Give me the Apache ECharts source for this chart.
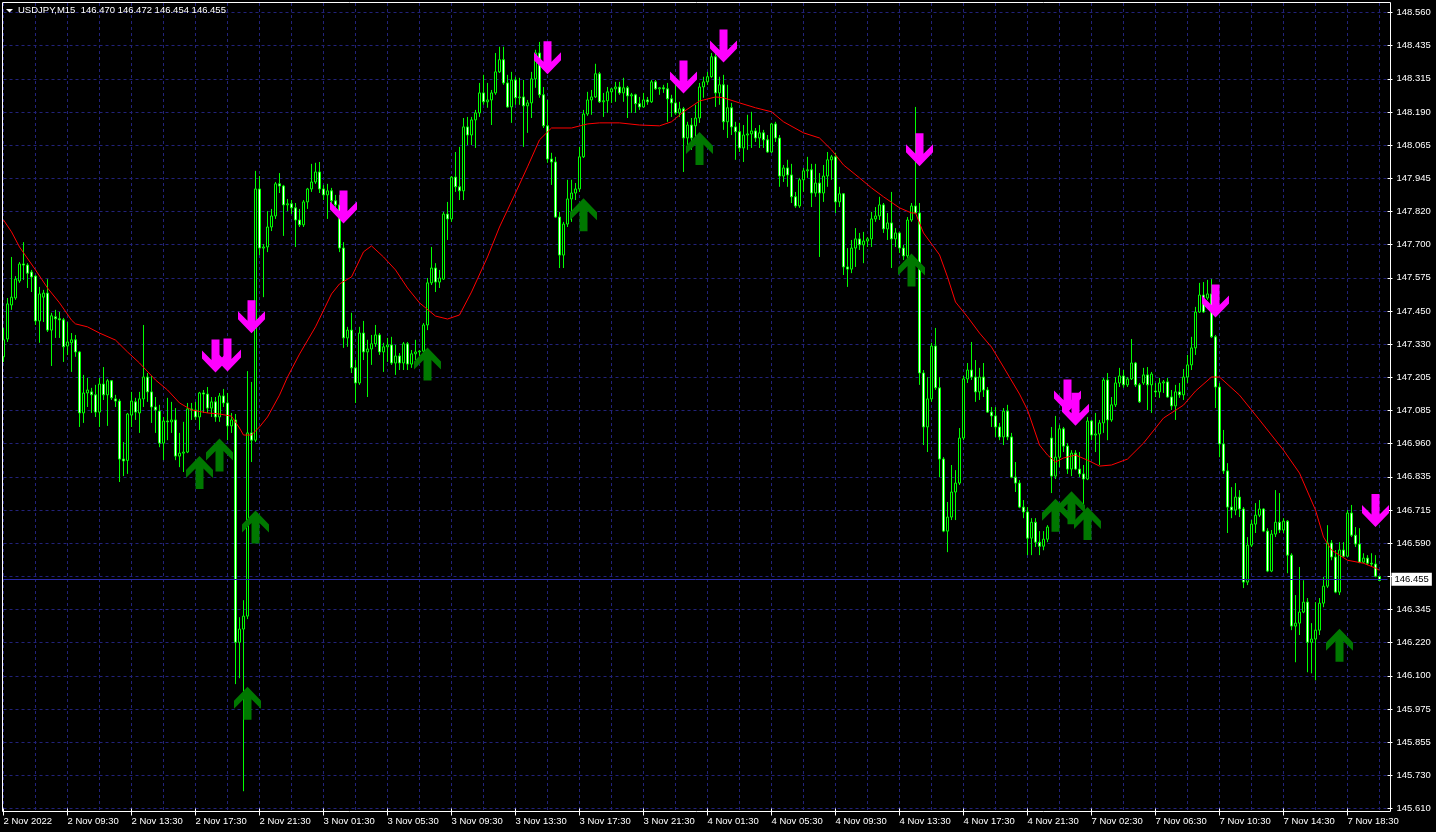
<!DOCTYPE html>
<html><head><meta charset="utf-8">
<script src="https://cdn.jsdelivr.net/npm/echarts@6/dist/echarts.min.js"></script>
<style>html,body{margin:0;padding:0;background:#000;}#chart{width:1436px;height:832px;}</style>
</head><body><div id="chart"></div>
<script>
const titleText = 'USDJPY,M15  146.470 146.472 146.454 146.455';
const xTickLabels = ['2 Nov 2022','2 Nov 09:30','2 Nov 13:30','2 Nov 17:30','2 Nov 21:30','3 Nov 01:30','3 Nov 05:30','3 Nov 09:30','3 Nov 13:30','3 Nov 17:30','3 Nov 21:30','4 Nov 01:30','4 Nov 05:30','4 Nov 09:30','4 Nov 13:30','4 Nov 17:30','4 Nov 21:30','7 Nov 02:30','7 Nov 06:30','7 Nov 10:30','7 Nov 14:30','7 Nov 18:30'];
const yTickLabels = ['145.610','145.730','145.855','145.975','146.100','146.220','146.345','146.470','146.590','146.715','146.835','146.960','147.085','147.205','147.330','147.450','147.575','147.700','147.820','147.945','148.065','148.190','148.315','148.435','148.560'];
const yMin = 145.61, yMax = 148.56;
const lastPrice = 146.455;

const open = [
147.284,147.350,147.476,147.502,147.565,147.628,147.624,147.598,147.583,147.417,
147.505,147.520,147.383,147.432,147.425,147.421,147.324,147.336,147.347,147.302,
147.076,147.150,147.154,147.143,147.079,147.183,147.143,147.195,147.128,147.120,
146.905,146.900,147.068,147.117,147.076,147.128,147.209,147.154,147.098,147.083,
146.964,147.046,147.043,147.050,146.916,146.927,146.931,147.091,147.087,147.061,
147.150,147.146,147.094,147.117,147.061,147.139,147.113,147.028,147.050,146.226,
146.275,146.323,147.002,146.975,147.906,147.687,147.691,147.765,147.806,147.925,
147.917,147.847,147.851,147.836,147.791,147.773,147.858,147.906,147.932,147.969,
147.906,147.884,147.899,147.862,147.847,147.687,147.354,147.383,147.243,147.187,
147.372,147.302,147.313,147.332,147.365,147.302,147.321,147.328,147.261,147.287,
147.261,147.332,147.257,147.295,147.302,147.305,147.402,147.558,147.613,147.561,
147.572,147.813,147.795,147.950,147.914,147.899,148.136,148.106,148.162,148.188,
148.262,148.229,148.236,148.262,148.340,148.385,148.299,148.210,148.310,148.244,
148.247,148.214,148.225,148.314,148.410,148.255,148.140,148.017,148.006,147.802,
147.661,147.776,147.869,147.891,147.906,148.025,148.184,148.236,148.247,148.333,
148.229,148.233,148.266,148.277,148.284,148.262,148.281,148.251,148.255,148.222,
148.210,148.236,148.229,148.303,148.277,148.281,148.277,148.240,148.225,148.188,
148.203,148.095,148.143,148.140,148.169,148.284,148.303,148.322,148.396,148.262,
148.292,148.155,148.207,148.136,148.118,148.058,148.106,148.110,148.121,148.095,
148.114,148.088,148.043,148.147,148.095,147.954,147.984,147.958,147.877,147.843,
147.940,147.973,147.977,147.891,147.928,147.891,147.954,148.014,148.025,147.858,
147.888,147.617,147.609,147.687,147.721,147.699,147.713,147.721,147.795,147.806,
147.847,147.758,147.780,147.721,147.743,147.687,147.658,147.791,147.843,147.817,
147.224,147.024,147.128,147.324,147.169,146.905,146.638,146.690,146.783,146.816,
146.983,147.202,147.235,147.209,147.154,147.209,147.161,147.079,147.065,147.024,
146.987,147.083,146.987,146.838,146.816,146.727,146.709,146.612,146.671,146.597,
146.582,146.608,146.983,146.842,146.912,147.017,146.953,146.868,146.927,146.868,
146.850,146.831,147.046,146.994,146.998,147.039,147.198,147.050,147.106,147.187,
147.213,147.180,147.202,147.261,147.180,147.187,147.217,147.180,147.157,147.154,
147.187,147.191,147.135,147.102,147.154,147.143,147.209,147.254,147.317,147.450,
147.513,147.502,147.517,147.358,147.172,146.961,146.861,146.727,146.716,146.764,
146.720,146.449,146.586,146.664,146.697,146.720,146.638,146.490,146.627,146.671,
146.642,146.675,146.549,146.286,146.297,146.338,146.375,146.226,146.238,146.271,
146.371,146.434,146.594,146.542,146.412,146.568,146.545,146.705,146.623,146.590,
146.523,146.538,146.519,146.516,146.470];

const high = [
147.391,147.502,147.654,147.583,147.635,147.709,147.631,147.606,147.587,147.543,
147.532,147.572,147.447,147.458,147.450,147.428,147.413,147.372,147.365,147.305,
147.217,147.206,147.169,147.180,147.206,147.246,147.202,147.198,147.143,147.128,
146.968,147.076,147.154,147.132,147.154,147.402,147.224,147.213,147.135,147.106,
147.061,147.132,147.117,147.094,147.002,147.043,147.113,147.113,147.117,147.154,
147.161,147.172,147.135,147.135,147.150,147.165,147.150,147.076,147.072,146.319,
146.382,147.231,147.191,147.973,147.954,147.702,147.824,147.832,147.932,147.965,
147.921,147.869,147.865,147.854,147.832,147.865,147.910,147.999,148.003,148.006,
147.921,147.925,147.910,147.884,147.884,147.709,147.395,147.447,147.272,147.395,
147.417,147.347,147.365,147.402,147.372,147.336,147.354,147.358,147.328,147.298,
147.339,147.339,147.309,147.347,147.309,147.409,147.576,147.691,147.631,147.606,
147.821,147.858,147.954,148.043,148.062,148.169,148.173,148.173,148.199,148.299,
148.329,148.299,148.273,148.410,148.433,148.433,148.329,148.340,148.322,148.318,
148.310,148.236,148.340,148.422,148.451,148.284,148.236,148.040,148.025,147.821,
147.784,147.940,147.940,147.928,148.062,148.199,148.266,148.273,148.370,148.340,
148.262,148.284,148.281,148.303,148.303,148.318,148.288,148.262,148.259,148.247,
148.262,148.247,148.310,148.310,148.284,148.292,148.299,148.255,148.299,148.229,
148.210,148.155,148.169,148.218,148.299,148.322,148.340,148.410,148.422,148.322,
148.329,148.292,148.225,148.155,148.151,148.143,148.181,148.192,148.132,148.143,
148.125,148.106,148.151,148.155,148.106,147.995,148.014,147.999,147.895,147.947,
147.984,148.025,147.999,147.999,147.965,147.995,148.043,148.032,148.040,147.914,
147.891,147.687,147.717,147.761,147.743,147.747,147.728,147.821,147.839,147.877,
147.854,147.817,147.895,147.761,147.747,147.699,147.802,147.854,148.210,147.854,
147.235,147.209,147.336,147.391,147.209,146.912,146.746,146.883,146.864,147.020,
147.213,147.261,147.339,147.272,147.243,147.261,147.172,147.098,147.098,147.039,
147.094,147.106,147.002,146.894,146.827,146.753,146.727,146.686,146.686,146.638,
146.638,146.660,147.024,147.065,147.032,147.024,146.964,146.938,146.938,146.931,
146.883,147.061,147.050,147.076,147.050,147.206,147.224,147.135,147.209,147.243,
147.235,147.209,147.350,147.265,147.187,147.243,147.246,147.228,147.187,147.206,
147.198,147.206,147.161,147.180,147.187,147.239,147.291,147.358,147.469,147.558,
147.561,147.569,147.572,147.365,147.187,147.013,146.890,146.801,146.816,146.790,
146.727,146.616,146.679,146.742,146.753,146.723,146.649,146.642,146.790,146.779,
146.686,146.679,146.556,146.401,146.505,146.456,146.390,146.297,146.375,146.390,
146.468,146.660,146.605,146.568,146.597,146.597,146.716,146.735,146.653,146.649,
146.556,146.549,146.556,146.549,146.472];

const low = [
147.265,147.339,147.458,147.495,147.558,147.569,147.539,147.524,147.402,147.336,
147.413,147.376,147.250,147.354,147.354,147.265,147.291,147.228,147.284,147.024,
147.039,147.098,147.076,147.061,147.024,147.124,147.028,147.124,147.098,146.820,
146.842,146.850,147.024,147.050,147.002,147.098,147.117,147.039,147.002,146.949,
146.901,146.975,147.002,146.901,146.875,146.857,146.927,147.050,147.050,147.013,
147.076,147.076,147.061,147.043,147.043,147.098,146.975,147.002,146.071,146.093,
145.674,146.312,146.894,146.968,147.661,147.505,147.672,147.750,147.795,147.891,
147.732,147.824,147.813,147.691,147.765,147.765,147.832,147.895,147.925,147.891,
147.865,147.795,147.828,147.813,147.672,147.317,147.321,147.224,147.113,147.180,
147.272,147.135,147.254,147.321,147.291,147.228,147.265,147.254,147.217,147.235,
147.235,147.235,147.243,147.272,147.284,147.272,147.383,147.550,147.524,147.539,
147.569,147.717,147.784,147.895,147.865,147.865,148.069,148.069,148.058,148.173,
148.218,148.207,148.143,148.255,148.336,148.292,148.207,148.151,148.218,148.218,
148.062,148.114,148.169,148.281,148.244,148.132,148.003,147.921,147.799,147.613,
147.613,147.765,147.784,147.865,147.895,148.021,148.177,148.181,148.244,148.225,
148.173,148.188,148.225,148.229,148.255,148.229,148.169,148.188,148.188,148.199,
148.207,148.218,148.225,148.273,148.255,148.262,148.155,148.173,148.181,148.173,
147.969,148.051,148.051,148.088,148.151,148.244,148.292,148.318,148.210,148.218,
148.125,148.095,148.106,148.014,148.043,148.006,148.051,148.058,148.080,148.058,
148.058,148.040,148.040,148.080,147.914,147.932,147.914,147.854,147.836,147.836,
147.895,147.947,147.839,147.877,147.654,147.858,147.914,147.940,147.817,147.839,
147.587,147.543,147.594,147.617,147.680,147.631,147.691,147.691,147.784,147.791,
147.743,147.717,147.613,147.691,147.669,147.643,147.650,147.784,147.817,147.180,
146.957,146.931,147.117,147.161,146.838,146.634,146.560,146.679,146.679,146.809,
146.975,147.187,147.198,147.117,147.124,147.135,147.076,147.024,146.987,146.975,
146.957,146.975,146.834,146.783,146.723,146.686,146.549,146.549,146.579,146.549,
146.567,146.597,146.779,146.831,146.875,146.931,146.850,146.842,146.864,146.838,
146.723,146.827,146.975,146.931,146.883,147.002,146.975,147.043,147.098,147.172,
147.169,147.172,147.198,147.172,147.113,147.180,147.087,147.076,147.135,147.132,
147.150,147.132,147.087,147.050,147.132,147.124,147.187,147.235,147.291,147.447,
147.447,147.495,147.354,147.094,146.912,146.850,146.631,146.686,146.697,146.690,
146.427,146.438,146.579,146.631,146.690,146.634,146.486,146.486,146.616,146.631,
146.631,146.482,146.271,146.152,146.253,146.334,146.115,146.111,146.085,146.253,
146.356,146.427,146.530,146.408,146.401,146.542,146.542,146.616,146.579,146.519,
146.519,146.512,146.505,146.467,146.454];

const close = [
147.347,147.480,147.505,147.572,147.628,147.624,147.594,147.580,147.417,147.517,
147.520,147.383,147.436,147.425,147.421,147.321,147.339,147.347,147.302,147.076,
147.150,147.161,147.143,147.079,147.183,147.143,147.195,147.132,147.120,146.905,
146.898,147.072,147.120,147.079,147.128,147.209,147.154,147.098,147.087,146.964,
147.046,147.043,147.050,146.916,146.927,146.931,147.091,147.087,147.061,147.150,
147.146,147.094,147.117,147.061,147.139,147.113,147.028,147.050,146.226,146.275,
146.323,147.002,146.975,147.906,147.687,147.691,147.765,147.806,147.925,147.917,
147.847,147.851,147.836,147.791,147.773,147.858,147.906,147.932,147.969,147.906,
147.884,147.899,147.862,147.847,147.687,147.354,147.383,147.243,147.187,147.372,
147.302,147.313,147.332,147.365,147.302,147.321,147.328,147.261,147.287,147.261,
147.332,147.257,147.295,147.302,147.305,147.402,147.558,147.613,147.561,147.576,
147.813,147.795,147.950,147.914,147.899,148.136,148.106,148.162,148.188,148.262,
148.229,148.236,148.262,148.340,148.385,148.299,148.210,148.310,148.244,148.247,
148.214,148.225,148.314,148.410,148.255,148.140,148.017,148.006,147.802,147.661,
147.776,147.869,147.891,147.906,148.025,148.184,148.236,148.247,148.333,148.229,
148.233,148.266,148.277,148.284,148.262,148.281,148.251,148.255,148.222,148.210,
148.236,148.229,148.303,148.277,148.281,148.277,148.240,148.225,148.188,148.203,
148.095,148.143,148.095,148.169,148.284,148.303,148.322,148.396,148.262,148.292,
148.155,148.207,148.136,148.118,148.058,148.106,148.110,148.121,148.095,148.114,
148.088,148.043,148.147,148.095,147.954,147.984,147.958,147.877,147.843,147.940,
147.973,147.977,147.891,147.928,147.891,147.954,148.014,148.025,147.858,147.888,
147.617,147.609,147.687,147.721,147.699,147.713,147.721,147.795,147.806,147.847,
147.758,147.780,147.721,147.743,147.687,147.658,147.791,147.843,147.817,147.224,
147.024,147.128,147.324,147.169,146.905,146.638,146.690,146.783,146.816,146.983,
147.202,147.235,147.209,147.154,147.209,147.161,147.079,147.065,147.024,146.987,
147.083,146.987,146.838,146.816,146.727,146.709,146.612,146.671,146.597,146.582,
146.608,146.653,146.842,146.912,147.017,146.953,146.868,146.927,146.868,146.850,
146.831,147.046,146.994,146.998,147.039,147.198,147.050,147.106,147.187,147.213,
147.180,147.202,147.261,147.180,147.117,147.217,147.180,147.220,147.154,147.187,
147.191,147.135,147.102,147.154,147.143,147.209,147.254,147.317,147.450,147.513,
147.450,147.517,147.358,147.172,146.961,146.861,146.727,146.716,146.764,146.720,
146.449,146.586,146.664,146.697,146.720,146.638,146.490,146.627,146.671,146.642,
146.675,146.549,146.286,146.297,146.338,146.375,146.226,146.238,146.271,146.371,
146.434,146.594,146.542,146.412,146.568,146.545,146.705,146.623,146.590,146.523,
146.538,146.519,146.516,146.471,146.455];

// red moving average at these bar indices
const maIndex = [0,2,4,8,11,14,17,18,21,24,28,31,34,38,41,44,47,51,54,57,59,60,62,64,66,69,71,74,78,82,84,87,90,92,95,98,101,104,108,111,114,117,121,124,128,131,134,137,142,146,149,154,159,164,167,170,174,178,180,184,188,192,195,200,204,207,210,214,217,220,224,227,228,230,234,236,238,241,244,247,250,254,256,259,261,263,265,268,271,274,277,281,285,290,295,298,302,304,309,314,320,324,328,330,332,336,340,343,344];
const maValue = [147.791,147.747,147.691,147.606,147.539,147.484,147.420,147.406,147.395,147.372,147.346,147.302,147.261,147.198,147.161,147.113,147.087,147.076,147.072,147.064,147.020,146.994,146.994,147.024,147.061,147.142,147.209,147.294,147.395,147.517,147.554,147.580,147.673,147.695,147.654,147.606,147.539,147.484,147.435,147.424,147.439,147.524,147.654,147.765,147.891,147.988,148.088,148.132,148.132,148.147,148.151,148.151,148.143,148.140,148.155,148.192,148.232,148.247,148.244,148.225,148.207,148.192,148.155,148.114,148.095,148.051,147.995,147.947,147.910,147.877,147.836,147.817,147.817,147.743,147.662,147.580,147.487,147.432,147.372,147.320,147.246,147.146,147.087,146.957,146.920,146.894,146.909,146.920,146.901,146.879,146.883,146.905,146.964,147.057,147.105,147.157,147.209,147.209,147.142,147.050,146.938,146.853,146.716,146.616,146.568,146.530,146.519,146.501,146.493];

const downArrowIndex = [53,56,62,85,136,170,180,229,266,268,303,343];
const downArrowPrice = [147.287,147.291,147.432,147.839,148.392,148.321,148.436,148.051,147.139,147.090,147.491,146.714];
const upArrowIndex = [49,54,63,61,106,145,174,227,263,267,271,334];
const upArrowPrice = [146.855,146.920,146.653,146.000,147.257,147.810,148.056,147.606,146.697,146.725,146.666,146.215];

const categoryCount = 347;
const categories = Array.from({length: categoryCount}, (_, i) => String(i));
const candleData = open.map((o, i) => [o, close[i], low[i], high[i]]);
const maData = maIndex.map((ix, k) => [ix, maValue[k]]);
const downData = downArrowIndex.map((ix, k) => [ix, downArrowPrice[k]]);
const upData = upArrowIndex.map((ix, k) => [ix, upArrowPrice[k]]);
const yStep = (yMax - yMin) / (yTickLabels.length - 1);

const FONT = 'Liberation Sans';
const gridColor = '#22227a';

const chart = echarts.init(document.getElementById('chart'), null, {renderer: 'canvas'});
chart.setOption({
  backgroundColor: '#000000',
  animation: false,
  grid: [
    {left: 3.5, right: 48.5, top: 12.5, bottom: 23.5, containLabel: false},
    {left: 3.5, right: 48.5, top: 3, bottom: 21, containLabel: false}
  ],
  xAxis: [{
    type: 'category', data: categories, boundaryGap: false, gridIndex: 0,
    axisLine: {show: false},
    axisTick: {show: true, interval: 15, length: 7, lineStyle: {color: '#ffffff'}},
    axisLabel: {interval: 15, color: '#ffffff', fontSize: 9.5, fontFamily: FONT, align: 'left', margin: 8,
      formatter: (v, idx) => (idx % 16 === 0 && xTickLabels[idx / 16]) ? xTickLabels[idx / 16] : ''},
    splitLine: {show: false}
  }, {
    type: 'category', data: categories, boundaryGap: false, gridIndex: 1,
    axisLine: {show: false}, axisTick: {show: false}, axisLabel: {show: false},
    splitLine: {show: true, interval: 7, lineStyle: {color: gridColor, type: [3, 3], width: 1}}
  }],
  yAxis: [{
    type: 'value', position: 'right', min: yMin, max: yMax, interval: yStep, scale: true, gridIndex: 0,
    axisLine: {show: false},
    axisTick: {show: true, length: 5, lineStyle: {color: '#ffffff'}},
    axisLabel: {color: '#ffffff', fontSize: 9.5, fontFamily: FONT, margin: 9,
      formatter: v => yTickLabels[Math.round((v - yMin) / yStep)] || ''},
    splitLine: {show: true, lineStyle: {color: gridColor, type: [3, 3], width: 1}}
  }, {
    type: 'value', gridIndex: 1, show: false, min: 0, max: 1, splitLine: {show: false}
  }],
  graphic: [
    {type: 'rect', shape: {x: 2.5, y: 2.5, width: 1388, height: 809}, style: {fill: 'none', stroke: '#ffffff', lineWidth: 1}, silent: true, z: 50},
    {type: 'polygon', shape: {points: [[6, 9], [13, 9], [9.5, 12.5]]}, style: {fill: '#ffffff'}, silent: true, z: 50},
    {type: 'text', left: 18, top: 5, style: {text: titleText, fill: '#ffffff', font: '9.5px "Liberation Sans"'}, silent: true, z: 50}
  ],
  series: [
    {
      type: 'candlestick', data: candleData, barWidth: 2, clip: false, z: 2,
      xAxisIndex: 0, yAxisIndex: 0,
      itemStyle: {color: '#000000', color0: '#ffffff', borderColor: '#00ff00', borderColor0: '#00ff00', borderColorDoji: '#00ff00', borderWidth: 1},
      markLine: {
        silent: true, symbol: ['none', 'none'], animation: false,
        data: [{yAxis: lastPrice}],
        lineStyle: {color: '#2a2aa8', type: 'solid', width: 1},
        label: {show: true, position: 'end', formatter: lastPrice.toFixed(3), backgroundColor: '#ffffff', color: '#000000', fontSize: 9.5, fontFamily: FONT, padding: [2, 3, 1, 3], distance: 4}
      }
    },
    {type: 'line', data: maData, symbol: 'none', z: 3, xAxisIndex: 0, yAxisIndex: 0, lineStyle: {color: '#ff0000', width: 1}, itemStyle: {color: '#ff0000'}},
    {type: 'scatter', data: downData, z: 4, xAxisIndex: 0, yAxisIndex: 0, symbol: 'path://M13.5,33 L27,19 L27,11 L17.5,20.5 L17.5,0 L9.5,0 L9.5,20.5 L0,11 L0,19 Z', symbolSize: [27, 33], itemStyle: {color: '#ff00ff', opacity: 1}},
    {type: 'scatter', data: upData, z: 4, xAxisIndex: 0, yAxisIndex: 0, symbol: 'path://M13.5,0 L27,14 L27,22 L17.5,12.5 L17.5,33 L9.5,33 L9.5,12.5 L0,22 L0,14 Z', symbolSize: [27, 33], itemStyle: {color: '#007800', opacity: 1}}
  ]
});
</script>
</body></html>
